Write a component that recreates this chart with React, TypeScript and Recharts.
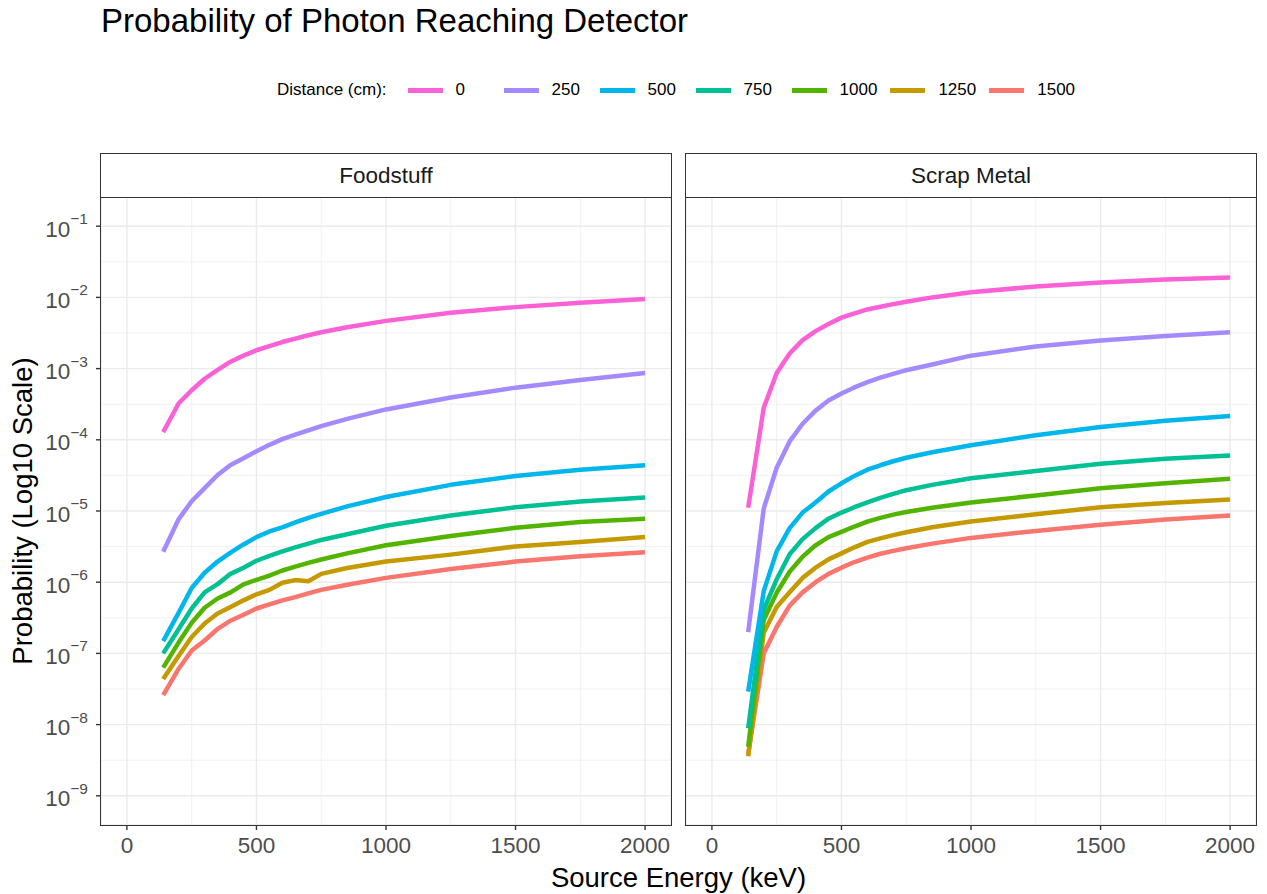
import React from "react";
import { LineChart, Line, XAxis, YAxis, CartesianGrid } from "recharts";

// source energy (keV) at which each curve was sampled
const energy = [140, 200, 250, 300, 350, 400, 450, 500, 550, 600, 650, 700, 750, 850, 1000, 1250, 1500, 1750, 2000];

const distances = ["0", "250", "500", "750", "1000", "1250", "1500"];
const distanceColors = ["#FB61D7", "#A58AFF", "#00B6EB", "#00C094", "#53B400", "#C49A00", "#F8766D"];

// Foodstuff
const food0 = [1.28e-4, 3.26e-4, 4.97e-4, 7.2e-4, 9.6e-4, 1.25e-3, 1.52e-3, 1.81e-3, 2.07e-3, 2.36e-3, 2.64e-3, 2.94e-3, 3.24e-3, 3.8e-3, 4.68e-3, 6.1e-3, 7.3e-3, 8.4e-3, 9.5e-3];
const food250 = [2.67e-6, 7.7e-6, 1.37e-5, 2.09e-5, 3.2e-5, 4.44e-5, 5.5e-5, 6.9e-5, 8.5e-5, 1.02e-4, 1.18e-4, 1.36e-4, 1.56e-4, 1.97e-4, 2.67e-4, 3.92e-4, 5.4e-4, 6.9e-4, 8.65e-4];
const food500 = [1.49e-7, 3.74e-7, 8.3e-7, 1.36e-6, 1.95e-6, 2.6e-6, 3.39e-6, 4.3e-6, 5.16e-6, 5.9e-6, 6.9e-6, 8.0e-6, 9.1e-6, 1.16e-5, 1.57e-5, 2.33e-5, 3.11e-5, 3.8e-5, 4.39e-5];
const food750 = [1.0e-7, 2.2e-7, 4.27e-7, 7.2e-7, 9.4e-7, 1.31e-6, 1.6e-6, 2.0e-6, 2.34e-6, 2.71e-6, 3.09e-6, 3.48e-6, 3.92e-6, 4.71e-6, 6.2e-6, 8.65e-6, 1.13e-5, 1.36e-5, 1.55e-5];
const food1000 = [6.3e-8, 1.43e-7, 2.69e-7, 4.38e-7, 5.9e-7, 7.2e-7, 9.3e-7, 1.08e-6, 1.24e-6, 1.46e-6, 1.66e-6, 1.87e-6, 2.08e-6, 2.54e-6, 3.3e-6, 4.47e-6, 5.8e-6, 7.0e-6, 7.8e-6];
const food1250 = [4.36e-8, 9.3e-8, 1.7e-7, 2.63e-7, 3.63e-7, 4.47e-7, 5.56e-7, 6.76e-7, 7.8e-7, 9.8e-7, 1.07e-6, 1.03e-6, 1.31e-6, 1.58e-6, 1.95e-6, 2.44e-6, 3.18e-6, 3.67e-6, 4.3e-6];
const food1500 = [2.6e-8, 6.1e-8, 1.1e-7, 1.52e-7, 2.21e-7, 2.88e-7, 3.5e-7, 4.27e-7, 4.88e-7, 5.56e-7, 6.18e-7, 6.95e-7, 7.8e-7, 9.2e-7, 1.15e-6, 1.53e-6, 1.95e-6, 2.31e-6, 2.63e-6];

// Scrap Metal
const scrap0 = [1.11e-5, 2.82e-4, 8.65e-4, 1.63e-3, 2.51e-3, 3.36e-3, 4.22e-3, 5.2e-3, 5.98e-3, 6.77e-3, 7.4e-3, 8.05e-3, 8.7e-3, 1.0e-2, 1.18e-2, 1.42e-2, 1.62e-2, 1.78e-2, 1.9e-2];
const scrap250 = [1.99e-7, 1.08e-5, 4.05e-5, 9.5e-5, 1.68e-4, 2.57e-4, 3.57e-4, 4.47e-4, 5.44e-4, 6.46e-4, 7.48e-4, 8.43e-4, 9.5e-4, 1.14e-3, 1.52e-3, 2.04e-3, 2.48e-3, 2.88e-3, 3.24e-3];
const scrap500 = [2.9e-8, 7.5e-7, 2.71e-6, 5.75e-6, 9.5e-6, 1.32e-5, 1.88e-5, 2.45e-5, 3.11e-5, 3.8e-5, 4.39e-5, 5.0e-5, 5.6e-5, 6.68e-5, 8.4e-5, 1.16e-4, 1.51e-4, 1.85e-4, 2.16e-4];
const scrap750 = [8.9e-9, 4.1e-7, 1.1e-6, 2.47e-6, 4.03e-6, 5.75e-6, 7.8e-6, 9.5e-6, 1.13e-5, 1.32e-5, 1.53e-5, 1.74e-5, 1.96e-5, 2.33e-5, 2.88e-5, 3.65e-5, 4.62e-5, 5.42e-5, 6.02e-5];
const scrap1000 = [4.9e-9, 2.95e-7, 7.1e-7, 1.4e-6, 2.28e-6, 3.3e-6, 4.3e-6, 5.1e-6, 6.05e-6, 7.1e-6, 8.0e-6, 8.88e-6, 9.7e-6, 1.11e-5, 1.32e-5, 1.65e-5, 2.09e-5, 2.45e-5, 2.84e-5];
const scrap1250 = [3.6e-9, 1.95e-7, 4.5e-7, 7.2e-7, 1.15e-6, 1.6e-6, 2.09e-6, 2.54e-6, 3.09e-6, 3.68e-6, 4.13e-6, 4.59e-6, 5.03e-6, 5.9e-6, 7.1e-6, 9.0e-6, 1.13e-5, 1.3e-5, 1.45e-5];
const scrap1500 = [3.8e-9, 1.0e-7, 2.35e-7, 4.68e-7, 7.2e-7, 1.0e-6, 1.31e-6, 1.6e-6, 1.92e-6, 2.22e-6, 2.51e-6, 2.75e-6, 3.0e-6, 3.48e-6, 4.19e-6, 5.25e-6, 6.4e-6, 7.6e-6, 8.65e-6];

const xTicks = [0, 500, 1000, 1500, 2000];
const xMinor = [250, 750, 1250, 1750];
const yTicks = [1e-9, 1e-8, 1e-7, 1e-6, 1e-5, 1e-4, 1e-3, 1e-2, 1e-1];
const yMinor = [-8.5, -7.5, -6.5, -5.5, -4.5, -3.5, -2.5, -1.5].map((p) => Math.pow(10, p));

const FONT = "'Liberation Sans', Arial, Helvetica, sans-serif";
const Y_DOMAIN = [Math.pow(10, -9.41), Math.pow(10, -0.59)];

const makeRows = (series: number[][]) =>
  energy.map((e, i) => {
    const row: any = { energy: e };
    distances.forEach((d, j) => (row["d" + d] = series[j][i]));
    return row;
  });

const foodRows = makeRows([food0, food250, food500, food750, food1000, food1250, food1500]);
const scrapRows = makeRows([scrap0, scrap250, scrap500, scrap750, scrap1000, scrap1250, scrap1500]);

const PowerTick = (props: any) => {
  const { x, y, payload } = props;
  const exp = Math.round(Math.log10(payload.value));
  return (
    <text x={x} y={y + 10.5} textAnchor="end" fill="#4D4D4D" fontFamily={FONT}>
      <tspan fontSize={22.5}>10</tspan>
      <tspan fontSize={15.5} dy={-12.5}>{"\u2212" + Math.abs(exp)}</tspan>
    </text>
  );
};

const PLOT_TOP = 197;
const PLOT_H = 628;
const PLOT_W = 570;
const Y_AXIS_W = 90;
const X_AXIS_H = 40;

function Panel({ rows, title, x0, showY }: any) {
  const chartLeft = showY ? 0 : x0 - 10;
  const chartW = x0 + PLOT_W + 10 - chartLeft;
  const chartH = 894;
  const margin = {
    top: PLOT_TOP,
    right: 10,
    bottom: chartH - PLOT_TOP - PLOT_H - X_AXIS_H,
    left: showY ? x0 - Y_AXIS_W : 10,
  };
  return (
    <>
      <div style={{ position: "absolute", left: chartLeft, top: 0 }}>
        <LineChart width={chartW} height={chartH} data={rows} margin={margin}>
          <CartesianGrid stroke="#EBEBEB" strokeWidth={0.7} horizontalValues={yMinor} verticalValues={xMinor} />
          <CartesianGrid stroke="#EBEBEB" strokeWidth={1.4} />
          <XAxis
            dataKey="energy"
            type="number"
            domain={[-100, 2100]}
            ticks={xTicks}
            interval={0}
            allowDataOverflow
            height={X_AXIS_H}
            axisLine={false}
            tickSize={5}
            tickMargin={7}
            tickLine={{ stroke: "#333333", strokeWidth: 1.4 }}
            tick={{ fill: "#4D4D4D", fontSize: 22.5, fontFamily: FONT }}
          />
          <YAxis
            type="number"
            scale="log"
            domain={Y_DOMAIN}
            ticks={yTicks}
            interval={0}
            allowDataOverflow
            hide={!showY}
            width={Y_AXIS_W}
            axisLine={false}
            tickSize={5}
            tickMargin={8}
            tickLine={{ stroke: "#333333", strokeWidth: 1.4 }}
            tick={<PowerTick />}
          />
          {distances
            .map((d, j) => (
              <Line
                key={d}
                type="linear"
                dataKey={"d" + d}
                stroke={distanceColors[j]}
                strokeWidth={4.5}
                strokeLinejoin="round"
                dot={false}
                activeDot={false}
                isAnimationActive={false}
              />
            ))
            .reverse()}
        </LineChart>
      </div>
      <div
        style={{
          position: "absolute",
          left: x0 - 1,
          top: PLOT_TOP - 1,
          width: PLOT_W + 2,
          height: PLOT_H + 2,
          border: "1.5px solid #333333",
          boxSizing: "border-box",
          pointerEvents: "none",
        }}
      />
      <div
        style={{
          position: "absolute",
          left: x0 - 1,
          top: 153,
          width: PLOT_W + 2,
          height: PLOT_TOP - 153 + 1,
          border: "1.5px solid #333333",
          boxSizing: "border-box",
          background: "#FFFFFF",
          display: "flex",
          alignItems: "center",
          justifyContent: "center",
          fontSize: 22.5,
          color: "#1A1A1A",
          fontFamily: FONT,
        }}
      >
        {title}
      </div>
    </>
  );
}

export default function App() {
  return (
    <div
      style={{
        position: "absolute",
        left: 0,
        top: 0,
        width: 1267,
        height: 894,
        background: "#FFFFFF",
        fontFamily: FONT,
        overflow: "hidden",
      }}
    >
      <Panel rows={foodRows} title="Foodstuff" x0={101} showY />
      <Panel rows={scrapRows} title="Scrap Metal" x0={686} showY={false} />

      <svg width={1267} height={894} style={{ position: "absolute", left: 0, top: 0, pointerEvents: "none" }}>
        <text x={101} y={32} fontSize={33} fill="#000000" fontFamily={FONT}>
          Probability of Photon Reaching Detector
        </text>
        <text x={678.5} y={887} fontSize={27.5} fill="#000000" textAnchor="middle" fontFamily={FONT}>
          Source Energy (keV)
        </text>
        <text
          x={0}
          y={0}
          fontSize={27.5}
          fill="#000000"
          textAnchor="middle"
          fontFamily={FONT}
          transform="translate(32 511) rotate(-90)"
        >
          Probability (Log10 Scale)
        </text>
      </svg>

      <div
        style={{
          position: "absolute",
          left: 277,
          top: 80,
          height: 20,
          display: "flex",
          alignItems: "center",
          fontSize: 17,
          color: "#000000",
          whiteSpace: "nowrap",
        }}
      >
        <span style={{ marginRight: 21 }}>Distance (cm):</span>
        {distances.map((d, j) => (
          <React.Fragment key={d}>
            <span style={{ display: "inline-block", width: 35, height: 5, background: distanceColors[j], marginRight: 13 }} />
            <span style={{ display: "inline-block", minWidth: 35, marginRight: 13 }}>{d}</span>
          </React.Fragment>
        ))}
      </div>
    </div>
  );
}
